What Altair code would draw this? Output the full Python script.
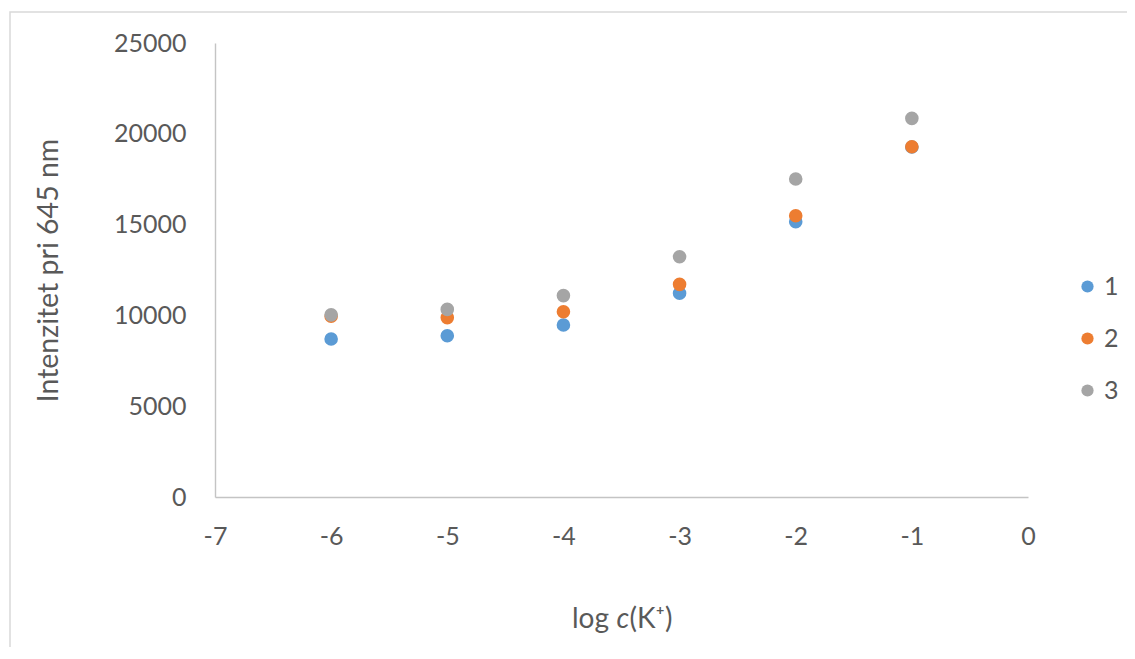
import altair as alt
import pandas as pd

# ---- data ----
x_vals = [-6, -5, -4, -3, -2, -1]
series_names = ["1", "2", "3"]
s1 = [8700, 8880, 9470, 11220, 15160, 19270]
s2 = [9960, 9880, 10200, 11710, 15490, 19290]
s3 = [10030, 10330, 11090, 13230, 17510, 20850]
colors = ["#5B9BD5", "#ED7D31", "#A5A5A5"]
x_ticks = [-7, -6, -5, -4, -3, -2, -1, 0]
y_ticks = [0, 5000, 10000, 15000, 20000, 25000]

rows = []
for name, vals in zip(series_names, [s1, s2, s3]):
    for xv, yv in zip(x_vals, vals):
        rows.append({"x": xv, "y": yv, "serija": name})
df = pd.DataFrame(rows)

FONT = "Lato"
GREY_TXT = "#595959"
W, H = 813, 454

points = alt.Chart(df).mark_point(filled=True, size=185, opacity=1).encode(
    x=alt.X("x:Q",
            scale=alt.Scale(domain=[-7, 0], nice=False, zero=False),
            axis=alt.Axis(values=x_ticks, title=None, grid=False, ticks=False,
                          labelExpr="'' + datum.value",
                          labelPadding=27, labelFontSize=25, labelColor=GREY_TXT,
                          labelFont=FONT, domainColor="#c4c4c4", domainWidth=1.4,
                          labelFlush=False)),
    y=alt.Y("y:Q",
            scale=alt.Scale(domain=[0, 25000], nice=False),
            axis=alt.Axis(values=y_ticks, format="d", title="Intenzitet pri 645 nm",
                          grid=False, ticks=False, labelPadding=29, labelFontSize=25,
                          labelColor=GREY_TXT, labelFont=FONT, domainColor="#c4c4c4",
                          domainWidth=1.4, titleFont=FONT, titleFontSize=28.5,
                          titleFontWeight="normal", titleColor=GREY_TXT,
                          titleX=-158, titleY=H / 2, titleBaseline="alphabetic",
                          labelFlush=False)),
    color=alt.Color("serija:N",
                    scale=alt.Scale(domain=series_names, range=colors),
                    legend=alt.Legend(title=None, orient="none", legendX=860, legendY=231,
                                      symbolType="circle", symbolSize=150,
                                      symbolStrokeWidth=0, labelFontSize=25,
                                      labelFont=FONT, labelColor=GREY_TXT,
                                      labelOffset=4, rowPadding=26, padding=0)),
    order=alt.Order("serija:N"),
)

one = pd.DataFrame({"d": [0]})

border = alt.Chart(one).mark_rect(fillOpacity=0, stroke="#d9d9d9", strokeWidth=1.5).encode(
    x=alt.value(-205), x2=alt.value(1000), y=alt.value(-31), y2=alt.value(700)
)

TFS = 28
t_log = alt.Chart(one).mark_text(text="log", font=FONT, fontSize=TFS, color=GREY_TXT,
                                 align="right", baseline="alphabetic").encode(
    x=alt.value(394), y=alt.value(585))
t_c = alt.Chart(one).mark_text(text="c", font=FONT, fontSize=TFS, fontStyle="italic",
                               color=GREY_TXT, align="left", baseline="alphabetic").encode(
    x=alt.value(401.5), y=alt.value(585))
t_k = alt.Chart(one).mark_text(text="(K⁺)", font=FONT, fontSize=TFS, color=GREY_TXT,
                               align="left", baseline="alphabetic").encode(
    x=alt.value(414.5), y=alt.value(585))

chart = alt.layer(border, points, t_log, t_c, t_k).properties(
    width=W, height=H,
    autosize=alt.AutoSizeParams(type="none"),
    padding={"left": 207, "top": 35, "right": 99, "bottom": 150},
    background="white",
).configure_view(stroke=None)

chart.save("out.html", embed_options={"renderer": "svg", "actions": False})
